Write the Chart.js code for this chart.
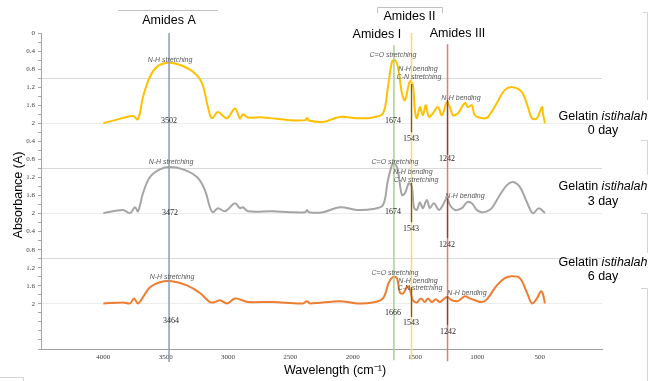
<!DOCTYPE html>
<html><head><meta charset="utf-8">
<script src="https://cdn.jsdelivr.net/npm/chart.js@4.4.1/dist/chart.umd.min.js"></script>
<style>html,body{margin:0;padding:0;background:#fff}#wrap{width:650px;height:381px;position:relative}</style>
</head><body><div id="wrap"><canvas id="c"></canvas></div>
<script>
// ---------- data ----------
const wavenumberTicks = [4000, 3500, 3000, 2500, 2000, 1500, 1000, 500];
const panelTickLabels = ['0.4', '0.8', '1.2', '1.6', '2'];
const panelNames = ['0 day', '3 day', '6 day'];

const day0Wave = [4000,3842,3762,3722,3682,3626,3570,3482,3385,3281,3209,3161,3129,3081,3008,2944,2904,2880,2840,2720,2503,2380,2367,2350,2238,2102,1966,1838,1757,1717,1685,1661,1637,1605,1581,1541,1517,1501,1485,1461,1437,1413,1389,1357,1316,1284,1244,1220,1196,1156,1100,1076,1044,1020,955,915,843,779,715,643,594,562,522,482,474,458];
const day0Abs = [2.0,1.88,1.84,1.91,1.42,0.97,0.75,0.66,0.71,0.86,1.11,1.64,1.89,1.75,1.89,1.67,1.89,1.80,1.87,1.87,1.93,1.93,1.88,1.94,1.97,1.86,1.89,1.87,1.78,1.20,0.64,0.60,0.75,1.33,1.49,1.07,1.15,1.71,1.89,1.64,1.82,1.60,1.86,1.78,1.64,1.82,1.53,1.64,1.82,1.78,1.55,1.64,1.60,1.82,1.89,1.86,1.55,1.26,1.20,1.31,1.64,1.89,1.89,1.64,1.78,2.0];

const day3Wave = [4000,3842,3786,3746,3722,3682,3626,3546,3466,3361,3249,3185,3145,3121,3081,3024,2944,2904,2880,2840,2640,2503,2380,2367,2350,2238,2102,1966,1838,1757,1717,1677,1653,1637,1605,1581,1549,1525,1509,1485,1461,1437,1405,1381,1349,1308,1276,1244,1220,1180,1124,1084,1044,1004,964,924,884,835,763,715,659,602,554,506,458];
const day3Abs = [1.99,1.92,1.99,1.86,1.95,1.55,1.19,1.02,0.97,1.02,1.19,1.48,1.86,1.97,1.88,1.95,1.77,1.88,1.86,1.95,1.95,1.97,1.97,1.92,1.97,1.97,1.86,1.92,1.90,1.81,1.26,0.88,0.93,1.04,1.59,1.55,1.33,1.41,1.86,1.92,1.75,1.88,1.70,1.88,1.77,1.92,1.81,1.66,1.81,1.92,1.88,1.75,1.77,1.92,1.97,1.95,1.88,1.66,1.37,1.30,1.41,1.75,1.99,1.88,1.99];

const day6Wave = [4000,3842,3786,3754,3722,3682,3626,3546,3450,3329,3225,3145,3105,3064,3008,2944,2888,2840,2640,2400,2367,2340,2102,1966,1838,1757,1709,1677,1645,1621,1597,1557,1541,1517,1485,1453,1421,1397,1365,1333,1300,1244,1204,1156,1100,1060,1020,964,924,843,779,723,659,602,562,522,490,474,458];
const day6Abs = [1.99,1.97,1.99,1.88,1.99,1.85,1.63,1.52,1.50,1.59,1.76,1.96,1.96,1.92,1.99,1.88,1.92,1.96,1.96,1.99,1.94,1.99,1.94,1.99,1.97,1.88,1.52,1.41,1.43,1.75,1.77,1.61,1.68,1.92,1.97,1.88,1.96,1.88,1.96,1.90,1.96,1.85,1.92,1.94,1.83,1.88,1.92,1.96,1.90,1.59,1.43,1.39,1.43,1.75,1.99,1.88,1.72,1.78,1.99];

const bandNames = ['Amides A', 'Amides I', 'Amides II', 'Amides III'];
const bandWave = [3473, 1669, 1528, 1239];
const peakNumbers = [['3502','1674','1543','1242'], ['3472','1674','1543','1242'], ['3464','1666','1543','1242']];
const assignmentTexts = ['N-H stretching', 'C=O stretching', 'N-H bending', 'C-N stretching', 'N-H bending'];

// ---------- layout / style config (not data) ----------
const PANEL_SPAN = 2;
const seriesColors = ['#ffc000', '#a5a5a5', '#ed7d31'];
const bandColors = ['#8c9cb8', '#a9d18e', '#ffd966', '#e07b7b'];
const bandExtent = [[0, 7.29], [0.27, 7.25], [0, 7.25], [0.25, 7.27]];
const assignPos = [
  [[3465,0.60],[1677,0.49],[1476,0.80],[1468,0.97],[1131,1.44]],
  [[3457,0.86],[1661,0.86],[1516,1.08],[1492,1.26],[1099,1.61]],
  [[3449,1.41],[1661,1.32],[1476,1.49],[1460,1.65],[1083,1.76]]
];
const numberPos = [
  [[3473,1.95],[1677,1.95],[1532,2.35],[1243,2.79]],
  [[3465,1.99],[1677,1.97],[1532,2.34],[1243,2.70]],
  [[3457,2.38],[1677,2.20],[1532,2.42],[1235,2.62]]
];
const dropLines = [
  [[1528,1.13,2.20],[1239,1.48,2.70]],
  [[1528,1.32,2.19],[1239,1.66,2.54]],
  [[1528,1.63,2.29],[1239,1.83,2.47]]
];

function toPoints(w, a, panel) {
  return w.map((x, i) => ({ x: x, y: panel * PANEL_SPAN + a[i] }));
}
const seriesWave = [day0Wave, day3Wave, day6Wave];
const seriesAbs = [day0Abs, day3Abs, day6Abs];

const datasets = seriesWave.map((w, i) => ({
  label: 'Gelatin istihalah ' + panelNames[i],
  data: toPoints(w, seriesAbs[i], i),
  borderColor: seriesColors[i],
  borderWidth: 2,
  pointRadius: 0,
  tension: 0.35,
  fill: false
}));

function tickLabel(v) {
  const t = Math.round(v * 10) / 10;
  if (t === 0) return '0';
  if (t > 6 + 1e-6) return '';
  let local = t - Math.ceil(t / PANEL_SPAN - 1e-6) * PANEL_SPAN + PANEL_SPAN;
  local = Math.round(local * 10) / 10;
  const idx = Math.round(local / 0.4) - 1;
  if (Math.abs(local - (idx + 1) * 0.4) > 1e-6) return '';
  return panelTickLabels[idx] || '';
}

const deco = {
  id: 'deco',
  afterDatasetsDraw(chart) {
    const ctx = chart.ctx, xs = chart.scales.x, ys = chart.scales.y;
    ctx.save();
    bandWave.forEach((w, i) => {
      const px = xs.getPixelForValue(w);
      ctx.strokeStyle = bandColors[i];
      ctx.lineWidth = 1.5;
      ctx.beginPath();
      ctx.moveTo(px, ys.getPixelForValue(bandExtent[i][0]));
      ctx.lineTo(px, ys.getPixelForValue(bandExtent[i][1]));
      ctx.stroke();
    });
    dropLines.forEach((pl, p) => pl.forEach(d => {
      const px = xs.getPixelForValue(d[0]);
      ctx.strokeStyle = 'rgba(85,68,55,0.85)';
      ctx.lineWidth = 1.3;
      ctx.beginPath();
      ctx.moveTo(px, ys.getPixelForValue(p * PANEL_SPAN + d[1]));
      ctx.lineTo(px, ys.getPixelForValue(p * PANEL_SPAN + d[2]));
      ctx.stroke();
    }));
    ctx.textAlign = 'center';
    ctx.textBaseline = 'middle';
    assignPos.forEach((pl, p) => pl.forEach((pos, k) => {
      ctx.font = 'italic 7px "Liberation Sans", Arial, sans-serif';
      ctx.fillStyle = '#595959';
      ctx.fillText(assignmentTexts[k], xs.getPixelForValue(pos[0]), ys.getPixelForValue(p * PANEL_SPAN + pos[1]));
    }));
    numberPos.forEach((pl, p) => pl.forEach((pos, k) => {
      ctx.font = '8px "Liberation Serif", "Times New Roman", serif';
      ctx.fillStyle = '#262626';
      ctx.fillText(peakNumbers[p][k], xs.getPixelForValue(pos[0]), ys.getPixelForValue(p * PANEL_SPAN + pos[1]));
    }));
    ctx.restore();
  },
  afterDraw(chart) {
    const ctx = chart.ctx, xs = chart.scales.x;
    ctx.save();
    ctx.fillStyle = '#000';
    ctx.textAlign = 'center';
    ctx.textBaseline = 'middle';
    ctx.font = '12.5px "Liberation Sans", Arial, sans-serif';
    const bx = bandWave.map(w => xs.getPixelForValue(w));
    ctx.fillText(bandNames[0], bx[0], 21);
    ctx.fillText(bandNames[1], bx[1] - 17, 35);
    ctx.fillText(bandNames[2], bx[2] - 2, 17);
    ctx.fillText(bandNames[3], bx[3] + 10, 34);
    ctx.strokeStyle = '#c0c0c0';
    ctx.lineWidth = 1;
    ctx.beginPath();
    ctx.moveTo(118, 10.5); ctx.lineTo(218, 10.5);
    ctx.moveTo(377.5, 13); ctx.lineTo(377.5, 7.5); ctx.lineTo(442.5, 7.5); ctx.lineTo(442.5, 13);
    ctx.stroke();
    ctx.strokeStyle = '#d4d4d4';
    ctx.beginPath();
    ctx.moveTo(643, 12.5); ctx.lineTo(647.5, 12.5); ctx.lineTo(647.5, 100);
    ctx.moveTo(641, 140.5); ctx.lineTo(647.5, 140.5); ctx.lineTo(647.5, 175);
    ctx.moveTo(641, 213.5); ctx.lineTo(647.5, 213.5); ctx.lineTo(647.5, 253);
    ctx.moveTo(641, 288.5); ctx.lineTo(647.5, 288.5); ctx.lineTo(647.5, 381);
    ctx.moveTo(0, 377.5); ctx.lineTo(23.5, 377.5); ctx.lineTo(23.5, 381);
    ctx.stroke();
    const rowY = [[117, 131], [187, 202], [263, 277]];
    panelNames.forEach((n, i) => {
      const f1 = '12.5px "Liberation Sans", Arial, sans-serif';
      const f2 = 'italic 12.5px "Liberation Sans", Arial, sans-serif';
      ctx.font = f1; const w1 = ctx.measureText('Gelatin ').width;
      ctx.font = f2; const w2 = ctx.measureText('istihalah').width;
      const x0 = 603 - (w1 + w2) / 2;
      ctx.textAlign = 'left';
      ctx.font = f1; ctx.fillText('Gelatin ', x0, rowY[i][0]);
      ctx.font = f2; ctx.fillText('istihalah', x0 + w1, rowY[i][0]);
      ctx.textAlign = 'center';
      ctx.font = f1; ctx.fillText(n, 603, rowY[i][1]);
    });
    ctx.font = '12.5px "Liberation Sans", Arial, sans-serif';
    ctx.fillText('Wavelength (cm\u207B\u00B9)', 335, 371);
    ctx.translate(19, 195);
    ctx.rotate(-Math.PI / 2);
    ctx.fillText('Absorbance (A)', 0, 0);
    ctx.restore();
  }
};

new Chart(document.getElementById('c'), {
  type: 'line',
  data: { datasets },
  plugins: [deco],
  options: {
    responsive: true,
    maintainAspectRatio: false,
    animation: false,
    layout: { padding: { top: 33, right: 48, left: 0, bottom: 0 } },
    plugins: { legend: { display: false }, tooltip: { enabled: false } },
    scales: {
      x: {
        type: 'linear', reverse: true, min: 0, max: 4500,
        afterFit(s) { s.height = 32; },
        ticks: {
          stepSize: 500, autoSkip: false, maxRotation: 0, padding: 4,
          color: '#404040',
          font: { family: '"Liberation Serif", "Times New Roman", serif', size: 7 },
          callback: v => wavenumberTicks.includes(v) ? String(v) : ''
        },
        grid: { display: false, drawTicks: false },
        border: { display: true, color: '#a0a0a0', width: 1 }
      },
      y: {
        type: 'linear', reverse: true, min: 0, max: 7,
        afterFit(s) { s.width = 41; },
        ticks: {
          stepSize: 0.2, autoSkip: false, padding: 3,
          color: '#404040',
          font: { family: '"Liberation Serif", "Times New Roman", serif', size: 7 },
          callback: v => tickLabel(v)
        },
        grid: {
          drawOnChartArea: true, drawTicks: true, tickLength: 3,
          tickColor: '#a6a6a6',
          color: c => {
            const t = Math.round(c.tick.value * 10) / 10;
            if (t === 1 || t === 3 || t === 5) return '#d9d9d9';
            if (t === 2 || t === 4 || t === 6) return '#ececec';
            return 'rgba(0,0,0,0)';
          }
        },
        border: { display: true, color: '#a6a6a6', width: 1 }
      }
    }
  }
});
</script>
</body></html>
